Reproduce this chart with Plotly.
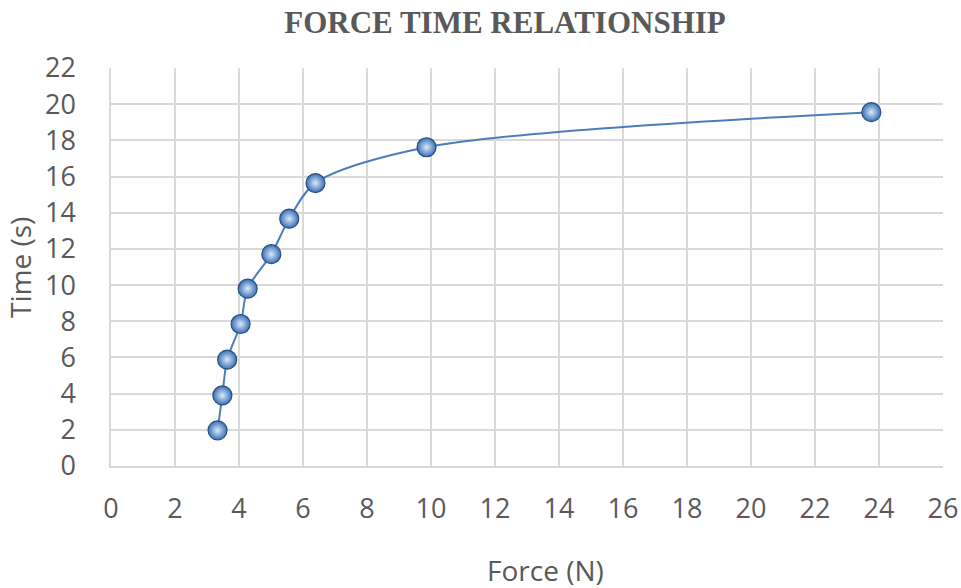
import plotly.graph_objects as go

# Measured force (N) and elapsed time (s)
force_n = [3.33, 3.48, 3.63, 4.05, 4.27, 5.01, 5.57, 6.39, 9.86, 23.76]
time_s = [1.97, 3.90, 5.88, 7.85, 9.80, 11.71, 13.67, 15.64, 17.62, 19.56]

x_ticks = list(range(0, 27, 2))
y_ticks = list(range(0, 23, 2))

tick_font = dict(family="Open Sans, Liberation Sans, sans-serif", size=27, color="#595959")
label_font = dict(family="Open Sans, Liberation Sans, sans-serif", size=28, color="#595959")
grid_color = "#d9d9d9"

W, H = 961, 588

fig = go.Figure()
fig.add_trace(go.Scatter(
    x=force_n,
    y=time_s,
    mode="lines+markers",
    line=dict(color="#4a7ebb", width=2, shape="spline", smoothing=0.85),
    marker=dict(
        size=19,
        color="#3b70b5",
        gradient=dict(type="radial", color="#d8eafc"),
        line=dict(color="#284f80", width=1.2),
    ),
    showlegend=False,
))

fig.update_layout(
    width=W,
    height=H,
    margin=dict(l=111, r=18, t=68, b=122),
    paper_bgcolor="white",
    plot_bgcolor="white",
    title=dict(
        text="<b>FORCE TIME RELATIONSHIP</b>",
        font=dict(family="Liberation Serif, Times New Roman, serif", size=31, color="#595959"),
        x=505 / W,
        xanchor="center",
        y=1 - 22 / H,
        yanchor="middle",
    ),
)

# Axis titles placed in paper space
fig.add_annotation(
    text="Force (N)", font=label_font, showarrow=False,
    xref="paper", yref="paper",
    x=(545 - 111) / (943 - 111), y=-(570 - 466) / (466 - 68),
    xanchor="center", yanchor="middle",
)
fig.add_annotation(
    text="Time (s)", font=label_font, showarrow=False, textangle=-90,
    xref="paper", yref="paper",
    x=-(111 - 20) / (943 - 111), y=(466 - 268) / (466 - 68),
    xanchor="center", yanchor="middle",
)

fig.update_xaxes(
    range=[0, 26],
    tickvals=x_ticks,
    ticktext=[str(v) for v in x_ticks],
    showgrid=True,
    gridcolor=grid_color,
    gridwidth=1.5,
    zeroline=False,
    showline=True,
    linecolor=grid_color,
    linewidth=1.5,
    ticks="",
    tickfont=tick_font,
    ticklabelstandoff=18,
    automargin=False,
)

fig.update_yaxes(
    range=[0, 22],
    tickvals=y_ticks,
    ticktext=[str(v) for v in y_ticks],
    showgrid=True,
    gridcolor=grid_color,
    gridwidth=1.5,
    zeroline=False,
    showline=True,
    linecolor=grid_color,
    linewidth=1.5,
    ticks="",
    tickfont=tick_font,
    ticklabelstandoff=28,
    automargin=False,
)

fig.write_html("out.html")
